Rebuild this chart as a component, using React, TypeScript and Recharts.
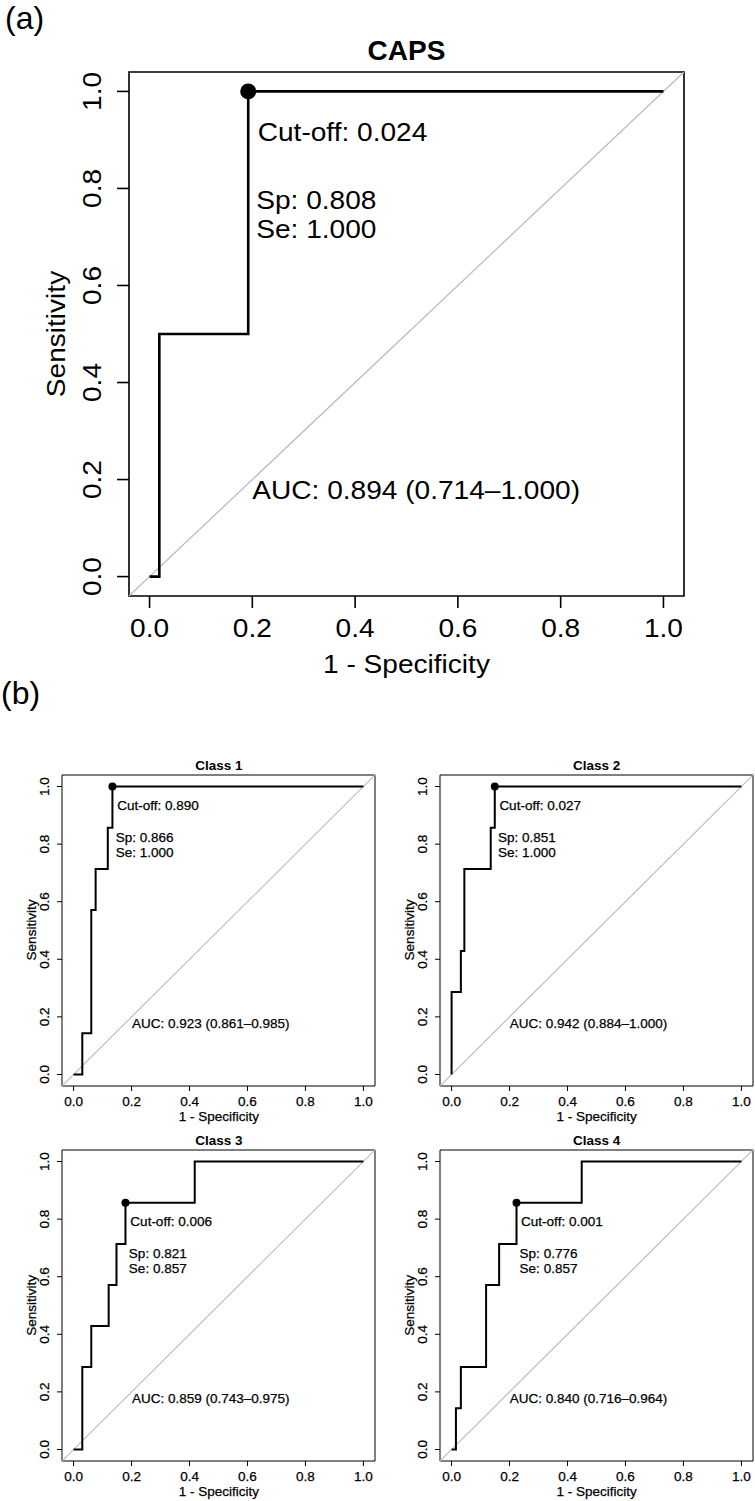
import { LineChart, Line, XAxis, YAxis, ReferenceArea, ReferenceDot } from "recharts";

const FONT = '"Liberation Sans", Arial, Helvetica, sans-serif';

// shared axes
const TICKS = [0, 0.2, 0.4, 0.6, 0.8, 1.0];
const DOMAIN: [number, number] = [-0.04, 1.04];
const DIAG = [-0.04, 1.04];

// (a) CAPS
const CAPS_FPR = [0, 0.019, 0.192, 1.0];
const CAPS_TPR = [0, 0.5, 1.0, 1.0];
const CAPS_CUT = [0.192, 1.0];
const CAPS_TEXT = ["Cut-off: 0.024", "Sp: 0.808", "Se: 1.000", "AUC: 0.894 (0.714–1.000)"];

// (b) classes
const C1_FPR = [0, 0.03, 0.061, 0.076, 0.118, 0.134, 1.0];
const C1_TPR = [0, 0.143, 0.571, 0.714, 0.857, 1.0, 1.0];
const C1_CUT = [0.134, 1.0];
const C1_TEXT = ["Cut-off: 0.890", "Sp: 0.866", "Se: 1.000", "AUC: 0.923 (0.861–0.985)"];

const C2_FPR = [0, 0, 0.032, 0.044, 0.135, 0.149, 1.0];
const C2_TPR = [0, 0.286, 0.429, 0.714, 0.857, 1.0, 1.0];
const C2_CUT = [0.149, 1.0];
const C2_TEXT = ["Cut-off: 0.027", "Sp: 0.851", "Se: 1.000", "AUC: 0.942 (0.884–1.000)"];

const C3_FPR = [0, 0.03, 0.061, 0.121, 0.148, 0.179, 0.418, 1.0];
const C3_TPR = [0, 0.286, 0.429, 0.571, 0.714, 0.857, 1.0, 1.0];
const C3_CUT = [0.179, 0.857];
const C3_TEXT = ["Cut-off: 0.006", "Sp: 0.821", "Se: 0.857", "AUC: 0.859 (0.743–0.975)"];

const C4_FPR = [0, 0.015, 0.032, 0.119, 0.164, 0.224, 0.449, 1.0];
const C4_TPR = [0, 0.143, 0.286, 0.571, 0.714, 0.857, 1.0, 1.0];
const C4_CUT = [0.224, 0.857];
const C4_TEXT = ["Cut-off: 0.001", "Sp: 0.776", "Se: 0.857", "AUC: 0.840 (0.716–0.964)"];

const AUC_AT = [0.2, 0.16];

type Box = { l: number; t: number; w: number; h: number };

const BIG = {
  fs: 26, sx: 1.08, titleFs: 28, tick: 12, xTickTop: 23, yTickBase: 28.5,
  titleBase: -12, xLabBase: 77, yLabBase: 63.7, yAxisW: 120, xAxisH: 60,
  curveW: 2.6, boxW: 1.6, diagW: 1.3, dotR: 8, heavy: 0,
  cut: [9.5, 49.7], sp: [8, 118], se: [8, 146.3],
};

const SMALL = {
  fs: 13.5, sx: 1, titleFs: 13.5, tick: 5, xTickTop: 10, yTickBase: 12.8,
  titleBase: -5, xLabBase: 35, yLabBase: 26.5, yAxisW: 50, xAxisH: 40,
  curveW: 2, boxW: 1, diagW: 1.2, dotR: 4, heavy: 0.25,
  cut: [4.5, 24], sp: [3, 56], se: [3, 70.5],
};

type Sty = typeof BIG;

const toPts = (xs: number[], ys: number[]) => xs.map((x, i) => ({ x, y: ys[i] }));

function XTick({ x, y, payload, s }: any) {
  return (
    <text
      transform={`translate(${x} ${y}) scale(${s.sx} 1)`}
      dy="0.71em"
      textAnchor="middle"
      fontSize={s.fs}
      fontFamily={FONT}
      fill="#000"
      stroke="#000"
      strokeWidth={s.heavy}
    >
      {Number(payload.value).toFixed(1)}
    </text>
  );
}

function YTick({ x, y, payload, s }: any) {
  return (
    <text
      transform={`translate(${x} ${y}) rotate(-90) scale(${s.sx} 1)`}
      textAnchor="middle"
      fontSize={s.fs}
      fontFamily={FONT}
      fill="#000"
      stroke="#000"
      strokeWidth={s.heavy}
    >
      {Number(payload.value).toFixed(1)}
    </text>
  );
}

function RocPanel({ title, fpr, tpr, cut, text, box, s }: {
  title: string; fpr: number[]; tpr: number[]; cut: number[]; text: string[]; box: Box; s: Sty;
}) {
  const padT = 10;
  const padR = 6;
  const px = (v: number) => box.l + ((v - DOMAIN[0]) / (DOMAIN[1] - DOMAIN[0])) * box.w;
  const py = (v: number) => box.t + ((DOMAIN[1] - v) / (DOMAIN[1] - DOMAIN[0])) * box.h;
  const cx = px(cut[0]);
  const cy = py(cut[1]);
  const txt = (x: number, y: number, str: string, extra: any = {}) => (
    <text
      transform={`translate(${x} ${y}) scale(${s.sx} 1)`}
      fontSize={s.fs}
      fontFamily={FONT}
      fill="#000"
      stroke="#000"
      strokeWidth={s.heavy}
      {...extra}
    >
      {str}
    </text>
  );

  return (
    <>
      <div style={{ position: "absolute", left: box.l - s.yAxisW, top: box.t - padT }}>
        <LineChart
          width={s.yAxisW + box.w + padR}
          height={padT + box.h + s.xAxisH}
          margin={{ top: padT, right: padR, bottom: 0, left: 0 }}
        >
          <XAxis
            dataKey="x"
            type="number"
            domain={DOMAIN}
            ticks={TICKS}
            allowDataOverflow
            interval={0}
            axisLine={false}
            tickLine={{ stroke: "#000", strokeWidth: s.boxW }}
            tickSize={s.tick}
            tickMargin={s.xTickTop - s.tick}
            height={s.xAxisH}
            tick={<XTick s={s} />}
          />
          <YAxis
            dataKey="y"
            type="number"
            domain={DOMAIN}
            ticks={TICKS}
            allowDataOverflow
            interval={0}
            axisLine={false}
            tickLine={{ stroke: "#000", strokeWidth: s.boxW }}
            tickSize={s.tick}
            tickMargin={s.yTickBase - s.tick}
            width={s.yAxisW}
            tick={<YTick s={s} />}
          />
          <ReferenceArea
            x1={DOMAIN[0]}
            x2={DOMAIN[1]}
            y1={DOMAIN[0]}
            y2={DOMAIN[1]}
            fill="none"
            fillOpacity={0}
            stroke="#000"
            strokeWidth={s.boxW}
          />
          <Line
            data={toPts(DIAG, DIAG)}
            dataKey="y"
            type="linear"
            stroke="#bdbdbd"
            strokeWidth={s.diagW}
            dot={false}
            isAnimationActive={false}
          />
          <Line
            data={toPts(fpr, tpr)}
            dataKey="y"
            type="stepAfter"
            stroke="#000"
            strokeWidth={s.curveW}
            dot={false}
            isAnimationActive={false}
          />
          <ReferenceDot x={cut[0]} y={cut[1]} r={s.dotR} fill="#000" stroke="none" />
        </LineChart>
      </div>
      <svg
        width={755}
        height={1501}
        style={{ position: "absolute", left: 0, top: 0, pointerEvents: "none", overflow: "visible" }}
      >
        <text
          x={box.l + box.w / 2}
          y={box.t + s.titleBase}
          textAnchor="middle"
          fontSize={s.titleFs}
          fontWeight="bold"
          fontFamily={FONT}
        >
          {title}
        </text>
        {txt(box.l + box.w / 2, box.t + box.h + s.xLabBase, "1 - Specificity", { textAnchor: "middle" })}
        <text
          transform={`translate(${box.l - s.yLabBase} ${box.t + box.h / 2}) rotate(-90) scale(${s.sx} 1)`}
          textAnchor="middle"
          fontSize={s.fs}
          fontFamily={FONT}
          stroke="#000"
          strokeWidth={s.heavy}
        >
          Sensitivity
        </text>
        {txt(cx + s.cut[0], cy + s.cut[1], text[0])}
        {txt(cx + s.sp[0], cy + s.sp[1], text[1])}
        {txt(cx + s.se[0], cy + s.se[1], text[2])}
        {txt(px(AUC_AT[0]), py(AUC_AT[1]), text[3])}
      </svg>
    </>
  );
}

export default function App() {
  return (
    <div
      style={{
        position: "absolute",
        left: 0,
        top: 0,
        width: 755,
        height: 1501,
        background: "#fff",
        fontFamily: FONT,
        overflow: "hidden",
      }}
    >
      <RocPanel title="CAPS" fpr={CAPS_FPR} tpr={CAPS_TPR} cut={CAPS_CUT} text={CAPS_TEXT}
        box={{ l: 129, t: 72, w: 555, h: 524 }} s={BIG} />
      <RocPanel title="Class 1" fpr={C1_FPR} tpr={C1_TPR} cut={C1_CUT} text={C1_TEXT}
        box={{ l: 62.4, t: 774.5, w: 313, h: 311 }} s={SMALL} />
      <RocPanel title="Class 2" fpr={C2_FPR} tpr={C2_TPR} cut={C2_CUT} text={C2_TEXT}
        box={{ l: 440.1, t: 774.5, w: 313, h: 311 }} s={SMALL} />
      <RocPanel title="Class 3" fpr={C3_FPR} tpr={C3_TPR} cut={C3_CUT} text={C3_TEXT}
        box={{ l: 62.4, t: 1149.8, w: 313, h: 311 }} s={SMALL} />
      <RocPanel title="Class 4" fpr={C4_FPR} tpr={C4_TPR} cut={C4_CUT} text={C4_TEXT}
        box={{ l: 440.1, t: 1149.8, w: 313, h: 311 }} s={SMALL} />
      <svg width={755} height={1501} style={{ position: "absolute", left: 0, top: 0, pointerEvents: "none" }}>
        <text x={5} y={29} fontSize={32} fontFamily={FONT}>(a)</text>
        <text x={1} y={704} fontSize={32} fontFamily={FONT}>(b)</text>
      </svg>
    </div>
  );
}
